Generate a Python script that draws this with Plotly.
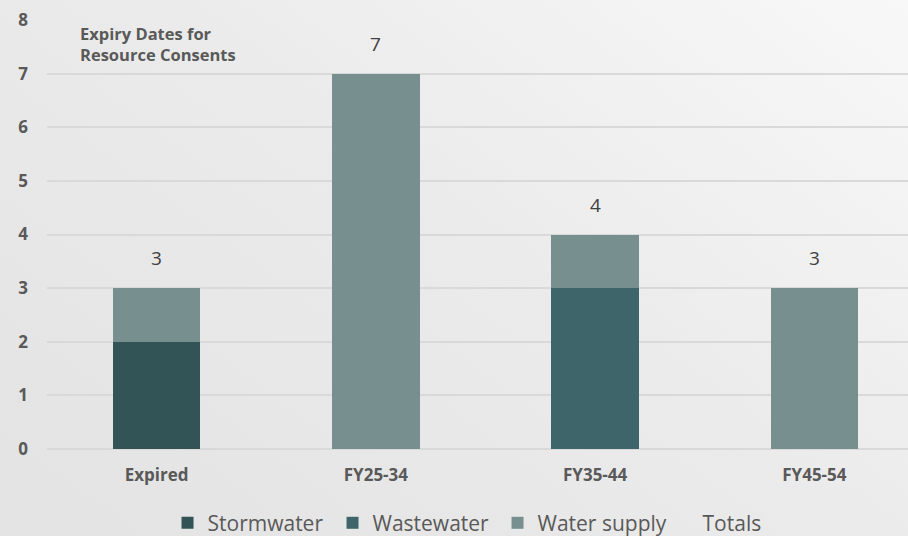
import base64
import plotly.graph_objects as go

# Expiry periods and consent counts per water service
categories = ["Expired", "FY25-34", "FY35-44", "FY45-54"]
stormwater = [2, 0, 0, 0]
wastewater = [0, 0, 3, 0]
water_supply = [1, 7, 1, 3]
totals = [s + w + ws for s, w, ws in zip(stormwater, wastewater, water_supply)]

series = [
    ("Stormwater", stormwater, "#325457"),
    ("Wastewater", wastewater, "#3e666a"),
    ("Water supply", water_supply, "#778f8f"),
]

FONT = "Open Sans"
GREY = "#595959"

fig = go.Figure()
for name, vals, color in series:
    fig.add_trace(go.Bar(
        x=categories, y=vals, name=name, width=0.4,
        marker=dict(color=color, line=dict(width=0)),
        hoverinfo="x+y+name",
    ))

# Legend-only entry for the totals (labels are drawn as annotations)
fig.add_trace(go.Scatter(
    x=categories, y=totals, name="Totals", mode="markers",
    marker=dict(color="rgba(0,0,0,0)", size=1),
    hoverinfo="skip",
))

annotations = [
    dict(x=c, y=t, text=str(t), showarrow=False, yshift=30,
         font=dict(family=FONT, size=19, color="#404040"))
    for c, t in zip(categories, totals)
]
annotations.append(dict(
    xref="paper", yref="paper", x=0.036, y=1.0, xanchor="left", yanchor="top",
    text="Expiry Dates for<br>Resource Consents", align="left", showarrow=False,
    font=dict(family=FONT, size=16.5, color=GREY, weight="bold"),
))

# Soft diagonal light-grey background
svg = (
    '<svg xmlns="http://www.w3.org/2000/svg" width="908" height="536" preserveAspectRatio="none">'
    '<defs><linearGradient id="g" x1="0" y1="0.8" x2="1" y2="0">'
    '<stop offset="0" stop-color="#e4e4e4"/>'
    '<stop offset="0.5" stop-color="#ebebeb"/>'
    '<stop offset="1" stop-color="#f8f8f8"/>'
    '</linearGradient></defs>'
    '<rect width="908" height="536" fill="url(#g)"/></svg>'
)
bg_src = "data:image/svg+xml;base64," + base64.b64encode(svg.encode()).decode()

fig.update_layout(
    width=908, height=536,
    barmode="stack",
    margin=dict(l=47, r=0, t=20, b=87, autoexpand=False),
    paper_bgcolor="#e9e9e9",
    plot_bgcolor="rgba(0,0,0,0)",
    font=dict(family=FONT, color=GREY),
    images=[dict(source=bg_src, xref="paper", yref="paper", x=-0.06, y=1.05,
                 sizex=1.06, sizey=1.26, xanchor="left", yanchor="top",
                 sizing="stretch", layer="below")],
    annotations=annotations,
    showlegend=True,
    legend=dict(
        orientation="h", xref="container", yref="container",
        x=0.1845, xanchor="left", y=0.024, yanchor="middle",
        font=dict(family=FONT, size=21, color=GREY),
        entrywidth=120, entrywidthmode="pixels",
        itemwidth=30, bgcolor="rgba(0,0,0,0)",
        traceorder="normal",
    ),
    xaxis=dict(
        type="category", range=[-0.5, 3.427], automargin=False,
        showgrid=False, showline=False, ticks="",
        tickfont=dict(family=FONT, size=17, color=GREY, weight="bold"),
        ticklabelstandoff=14,
    ),
    yaxis=dict(
        range=[0, 8], dtick=1, automargin=False,
        showgrid=True, gridcolor="#d9d9d9", gridwidth=2,
        zeroline=True, zerolinecolor="#d9d9d9", zerolinewidth=2,
        showline=False, ticks="",
        tickfont=dict(family=FONT, size=17, color=GREY, weight="bold"),
        ticklabelstandoff=18,
    ),
)

fig.write_html("out.html")
